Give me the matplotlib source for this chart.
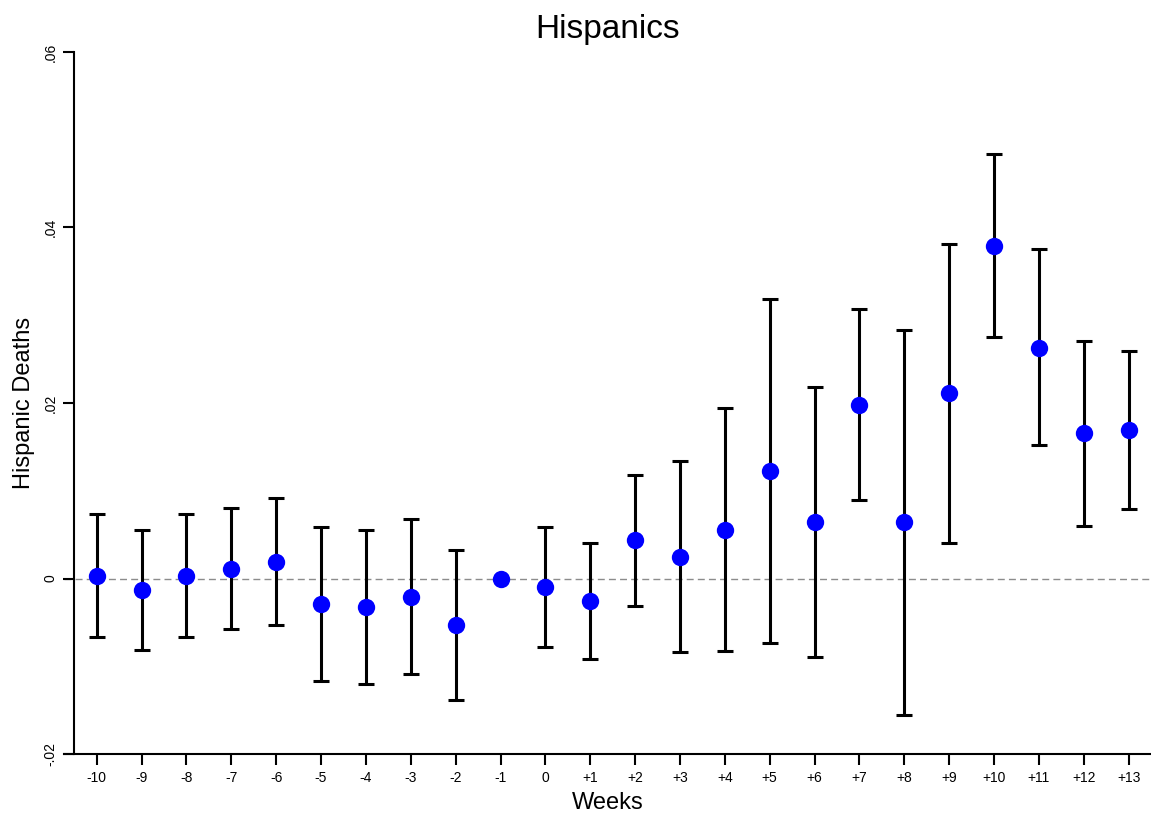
import numpy as np
import matplotlib
matplotlib.use("Agg")
import matplotlib.pyplot as plt

plt.rcParams['font.family'] = ['Liberation Sans', 'DejaVu Sans']

week_labels = ["-10", "-9", "-8", "-7", "-6", "-5", "-4", "-3", "-2", "-1", "0",
               "+1", "+2", "+3", "+4", "+5", "+6", "+7", "+8", "+9", "+10",
               "+11", "+12", "+13"]
weeks = list(range(-10, 14))
coef = [0.0003, -0.0013, 0.0003, 0.0011, 0.0019, -0.0029, -0.0033, -0.0021,
        -0.0053, 0.0, -0.0010, -0.0026, 0.0044, 0.0025, 0.0055, 0.0123,
        0.0064, 0.0198, 0.0064, 0.0211, 0.0379, 0.0263, 0.0166, 0.0169]
ci_low = [-0.0067, -0.0082, -0.0067, -0.0058, -0.0053, -0.0117, -0.0120,
          -0.0109, -0.0139, None, -0.0078, -0.0092, -0.0031, -0.0084,
          -0.0083, -0.0074, -0.0090, 0.0090, -0.0156, 0.0041, 0.0275,
          0.0152, 0.0060, 0.0079]
ci_high = [0.0073, 0.0055, 0.0073, 0.0080, 0.0092, 0.0059, 0.0055, 0.0068,
           0.0033, None, 0.0059, 0.0041, 0.0118, 0.0134, 0.0194, 0.0319,
           0.0218, 0.0307, 0.0283, 0.0381, 0.0484, 0.0376, 0.0271, 0.0259]
y_ticks = [-0.02, 0, 0.02, 0.04, 0.06]
y_tick_labels = ["-.02", "0", ".02", ".04", ".06"]

fig = plt.figure(figsize=(11.51, 8.13), dpi=100)
ax = fig.add_axes([64/1151, 1 - 754/813, 1 - 64/1151, (754 - 52)/813])

# zero reference line
ax.axhline(0, color='#8c8c8c', linestyle=(0, (5, 3)), linewidth=1.0, zorder=1)

# confidence intervals
xi = [w for w, lo in zip(weeks, ci_low) if lo is not None]
ci_c = [c for c, lo in zip(coef, ci_low) if lo is not None]
lo_v = [lo for lo in ci_low if lo is not None]
hi_v = [hi for hi in ci_high if hi is not None]
yerr = np.array([np.array(ci_c) - np.array(lo_v), np.array(hi_v) - np.array(ci_c)])
ax.errorbar(xi, ci_c, yerr=yerr, fmt='none', ecolor='black', elinewidth=2.2,
            capsize=5.5, capthick=2.2, zorder=2)

# point estimates
ax.plot(weeks, coef, 'o', color='#0000ff', markersize=12.5, zorder=3,
        markeredgewidth=0)

ax.set_xlim(-10.73, 13.5)
ax.set_ylim(-0.02, 0.06)
ax.set_xticks(weeks)
ax.set_xticklabels(week_labels, fontsize=10)
ax.set_yticks(y_ticks)
ax.set_yticklabels(y_tick_labels, fontsize=10)

ax.spines['top'].set_visible(False)
ax.spines['right'].set_visible(False)
ax.spines['left'].set_position(('data', -10.5))
ax.spines['left'].set_linewidth(1.5)
ax.spines['bottom'].set_linewidth(1.5)
ax.tick_params(axis='both', length=8, width=1.5, color='black')
ax.tick_params(axis='x', pad=4)
ax.tick_params(axis='y', pad=4, labelrotation=90)
for lab in ax.get_yticklabels():
    lab.set_verticalalignment('center')

ax.set_xlabel("Weeks", fontsize=17, labelpad=5)
ax.set_ylabel("Hispanic Deaths", fontsize=17)
ax.yaxis.set_label_coords(-0.027, 0.5)
ax.set_title("Hispanics", fontsize=24, pad=10)

fig.savefig("out.png", dpi=100)
